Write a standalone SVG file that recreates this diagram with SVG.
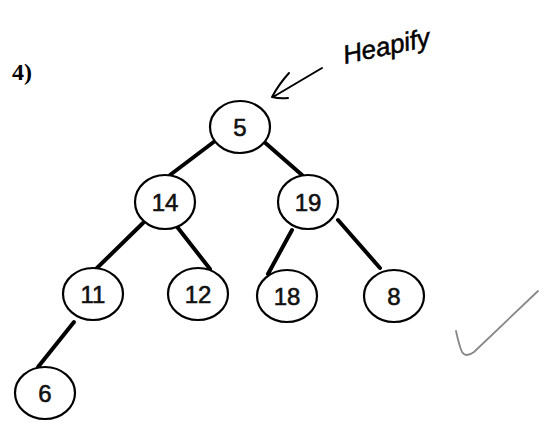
<svg xmlns="http://www.w3.org/2000/svg" width="549" height="439" viewBox="0 0 549 439">
<style>
.node ellipse{fill:#fff;stroke:#000;stroke-width:2.2}
.node text{font-family:"Liberation Sans",Arial,sans-serif;font-size:24px;fill:#111;text-anchor:middle;dominant-baseline:central;stroke:#111;stroke-width:0.6}
.edge{stroke:#000;stroke-width:4;stroke-linecap:round;fill:none}
</style>
<rect width="549" height="439" fill="#fff"/>
<text x="12" y="80" font-family="Liberation Serif,serif" font-weight="bold" font-size="24">4)</text>
<g id="connectors">
<line class="edge" x1="215" y1="141" x2="170" y2="175"/>
<line class="edge" x1="262" y1="140" x2="302" y2="175"/>
<line class="edge" x1="143" y1="223" x2="97" y2="268"/>
<line class="edge" x1="178" y1="228" x2="210" y2="269"/>
<line class="edge" x1="292" y1="230" x2="268" y2="274"/>
<line class="edge" x1="338" y1="220" x2="380" y2="268"/>
<line class="edge" x1="74" y1="322" x2="38" y2="367"/>
</g>
<g id="n5" class="node"><ellipse cx="240" cy="127" rx="30" ry="26"/><text x="240" y="127">5</text></g>
<g id="n14" class="node"><ellipse cx="165" cy="202" rx="30" ry="27"/><text x="165" y="202">14</text></g>
<g id="n19" class="node"><ellipse cx="308" cy="202" rx="30" ry="27"/><text x="308" y="202">19</text></g>
<g id="n11" class="node"><ellipse cx="93" cy="294" rx="30" ry="26"/><text x="93" y="294">11</text></g>
<g id="n12" class="node"><ellipse cx="198" cy="294" rx="30" ry="26"/><text x="198" y="294">12</text></g>
<g id="n18" class="node"><ellipse cx="287" cy="296" rx="30" ry="26"/><text x="287" y="296">18</text></g>
<g id="n8" class="node"><ellipse cx="394" cy="296" rx="30" ry="26"/><text x="394" y="296">8</text></g>
<g id="n6" class="node"><ellipse cx="45" cy="393" rx="30" ry="26"/><text x="45" y="393">6</text></g>
<g id="annotation">
<path d="M322 68 L273 97 M289 73 Q279 84 272 97 Q280 99 288 98" stroke="#000" stroke-width="2" fill="none" stroke-linecap="round" stroke-linejoin="round"/>
<text x="345" y="64" transform="rotate(-12 345 64)" font-family="Liberation Sans,sans-serif" font-style="italic" font-size="26" fill="#000" stroke="#000" stroke-width="0.5">Heapify</text>
</g>
<path d="M456 331 Q459 345 462 352 Q466 358 474 352 L538 291" stroke="#888" stroke-width="1.8" fill="none" stroke-linecap="round"/>
</svg>
